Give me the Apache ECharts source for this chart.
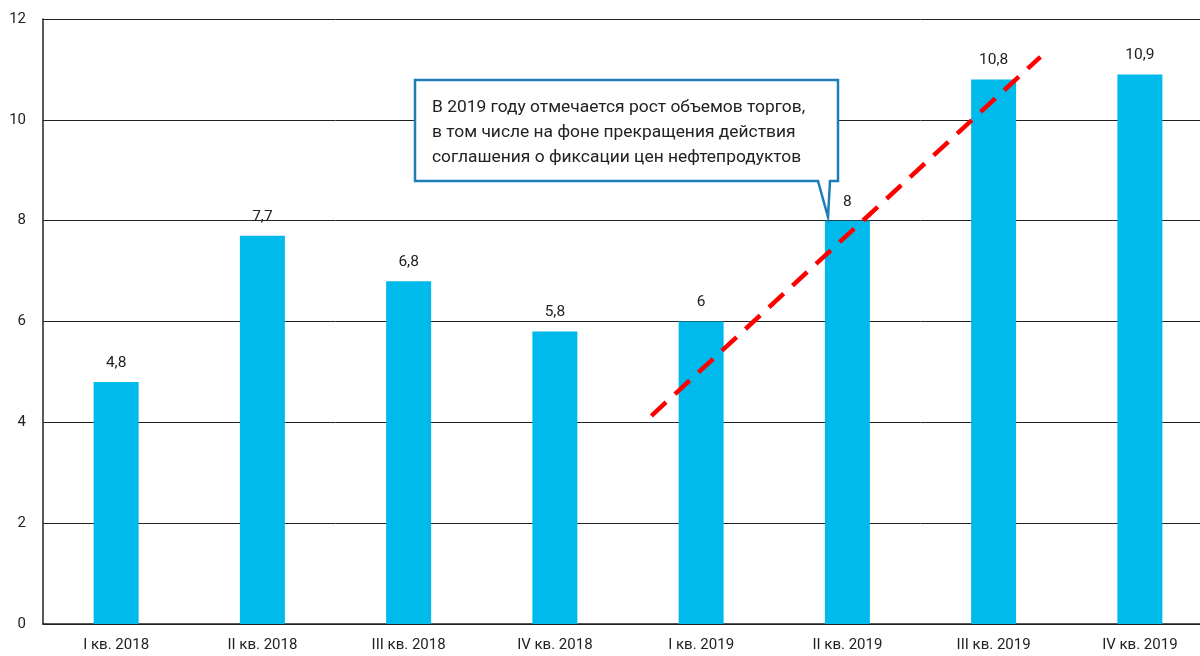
<!DOCTYPE html>
<html><head><meta charset="utf-8">
<script src="https://cdn.jsdelivr.net/npm/echarts@6/dist/echarts.min.js"></script>
<style>html,body{margin:0;padding:0;background:#fff;overflow:hidden;width:1200px;height:656px}#c{width:1213px;height:656px}</style>
</head><body><div id="c"></div>
<script>
const categories = ['I кв. 2018','II кв. 2018','III кв. 2018','IV кв. 2018','I кв. 2019','II кв. 2019','III кв. 2019','IV кв. 2019'];
const values = [4.8, 7.7, 6.8, 5.8, 6, 8, 10.8, 10.9];
const trendLine = [[3.66, 4.13], [6.32, 11.25]];
const calloutLines = ['В 2019 году отмечается рост объемов торгов,','в том числе на фоне прекращения действия','соглашения о фиксации цен нефтепродуктов'];

const chart = echarts.init(document.getElementById('c'), null, {renderer:'canvas'});
const FONT = 'Roboto';
chart.setOption({
  animation: false,
  grid: {left: 43, right: 0, top: 19, bottom: 32, containLabel: false},
  xAxis: [{
    type: 'category', data: categories,
    axisLine: {show: true, lineStyle: {color: '#222', width: 1.5}},
    axisTick: {show: false},
    axisLabel: {color: '#222', fontSize: 15, fontFamily: FONT, margin: 14}
  }, {
    type: 'value', min: -0.5, max: 7.5, show: false
  }],
  yAxis: {
    type: 'value', min: 0, max: 12, interval: 2,
    axisLine: {show: true, onZero: false, lineStyle: {color: '#222', width: 1.5}},
    axisTick: {show: false},
    splitLine: {lineStyle: {color: '#222', width: 1}},
    axisLabel: {color: '#222', fontSize: 15, fontFamily: FONT, margin: 17}
  },
  series: [{
    type: 'bar', data: values, barWidth: 45,
    itemStyle: {color: '#00BAEB'},
    label: {show: true, position: 'top', distance: 11, color: '#222', fontSize: 15.5, fontFamily: FONT,
      formatter: p => String(p.value).replace('.', ',')}
  }, {
    type: 'line', xAxisIndex: 1, data: trendLine, symbol: 'none', z: 5,
    lineStyle: {color: '#FF0000', width: 4.5, type: [20, 12]}
  }],
  graphic: [{
    type: 'polygon', z: 100,
    shape: {points: [[415,80],[838,80],[838,181],[830,181],[828,217],[818,181],[415,181]]},
    style: {fill: '#fff', stroke: '#1F7DB8', lineWidth: 2.5}
  }, {
    type: 'text', z: 101, left: 432, top: 95,
    style: {text: calloutLines.join('\n'), fill: '#222', fontSize: 17.4, fontFamily: FONT, lineHeight: 25}
  }]
});
</script></body></html>
